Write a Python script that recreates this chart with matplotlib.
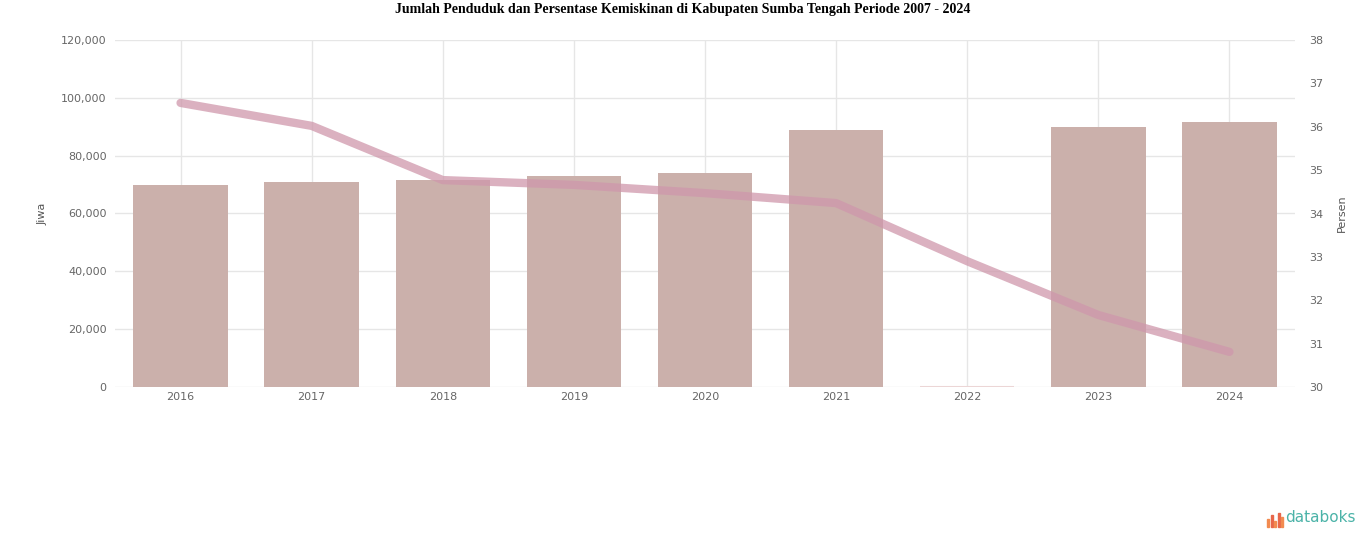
import numpy as np
import matplotlib
matplotlib.use('Agg')
from matplotlib import pyplot as plt

years = ['2016', '2017', '2018', '2019', '2020', '2021', '2022', '2023', '2024']
penduduk = [69800, 70900, 71600, 73000, 74000, 88900, 0, 89900, 91600]
miskin = [36.55, 36.02, 34.77, 34.66, 34.47, 34.24, 32.9, 31.66, 30.81]

left_ticks = [0, 20000, 40000, 60000, 80000, 100000, 120000]
right_ticks = [30, 31, 32, 33, 34, 35, 36, 37, 38]

fig = plt.figure(figsize=(13.66, 5.47), dpi=100)
ax = fig.add_axes([115/1366, 1-387/547, (1295-115)/1366, (387-40)/547])
x = np.arange(len(years))

ax.bar(x, penduduk, width=0.72, color='#cbb0ab', zorder=2)
# tahun tanpa data: garis tipis di dasar
empty = [i for i, v in enumerate(penduduk) if v == 0]
ax.bar(empty, [0]*len(empty), width=0.72, edgecolor='#ecd6d6', lw=1.5, zorder=2)
ax.set_ylim(0, 120000)
ax.set_xlim(-0.5, len(years)-0.5)
ax.set_yticks(left_ticks)
ax.set_yticklabels([f'{v:,}' for v in left_ticks])
ax.set_xticks(x)
ax.set_xticklabels(years)
ax.grid(True, color='#e6e6e6', lw=1, zorder=0)
ax.set_ylabel('Jiwa', fontsize=8, color='#555555', labelpad=10)
for s in ax.spines.values():
    s.set_visible(False)
ax.tick_params(length=0, labelsize=8, colors='#666666')
ax.tick_params(axis='y', pad=6)

ax2 = ax.twinx()
ax2.plot(x, miskin, color='#cf97ab', lw=6, alpha=0.75, solid_capstyle='round', zorder=3)
ax2.set_ylim(30, 38)
ax2.set_yticks(right_ticks)
ax2.set_yticklabels([str(v) for v in right_ticks])
ax2.set_ylabel('Persen', fontsize=8, color='#555555', labelpad=10)
for s in ax2.spines.values():
    s.set_visible(False)
ax2.tick_params(length=0, labelsize=8, colors='#666666', pad=10)

fig.text(0.5, 1-10/547, 'Jumlah Penduduk dan Persentase Kemiskinan di Kabupaten Sumba Tengah Periode 2007 - 2024',
         ha='center', va='center', fontsize=10, fontweight='bold', family='Liberation Serif')

# logo databoks
for i, h in enumerate([8, 12, 6, 14, 10]):
    fig.patches.append(plt.Rectangle(((1267 + i*3.5)/1366, (547-527)/547), 2/1366, h/547,
                                     transform=fig.transFigure, color='#e8674a' if i % 2 else '#f28b50'))
fig.text(1285/1366, 1-518/547, 'databoks', ha='left', va='center', fontsize=11, color='#4bb3a8')

fig.savefig('out.png', dpi=100)
